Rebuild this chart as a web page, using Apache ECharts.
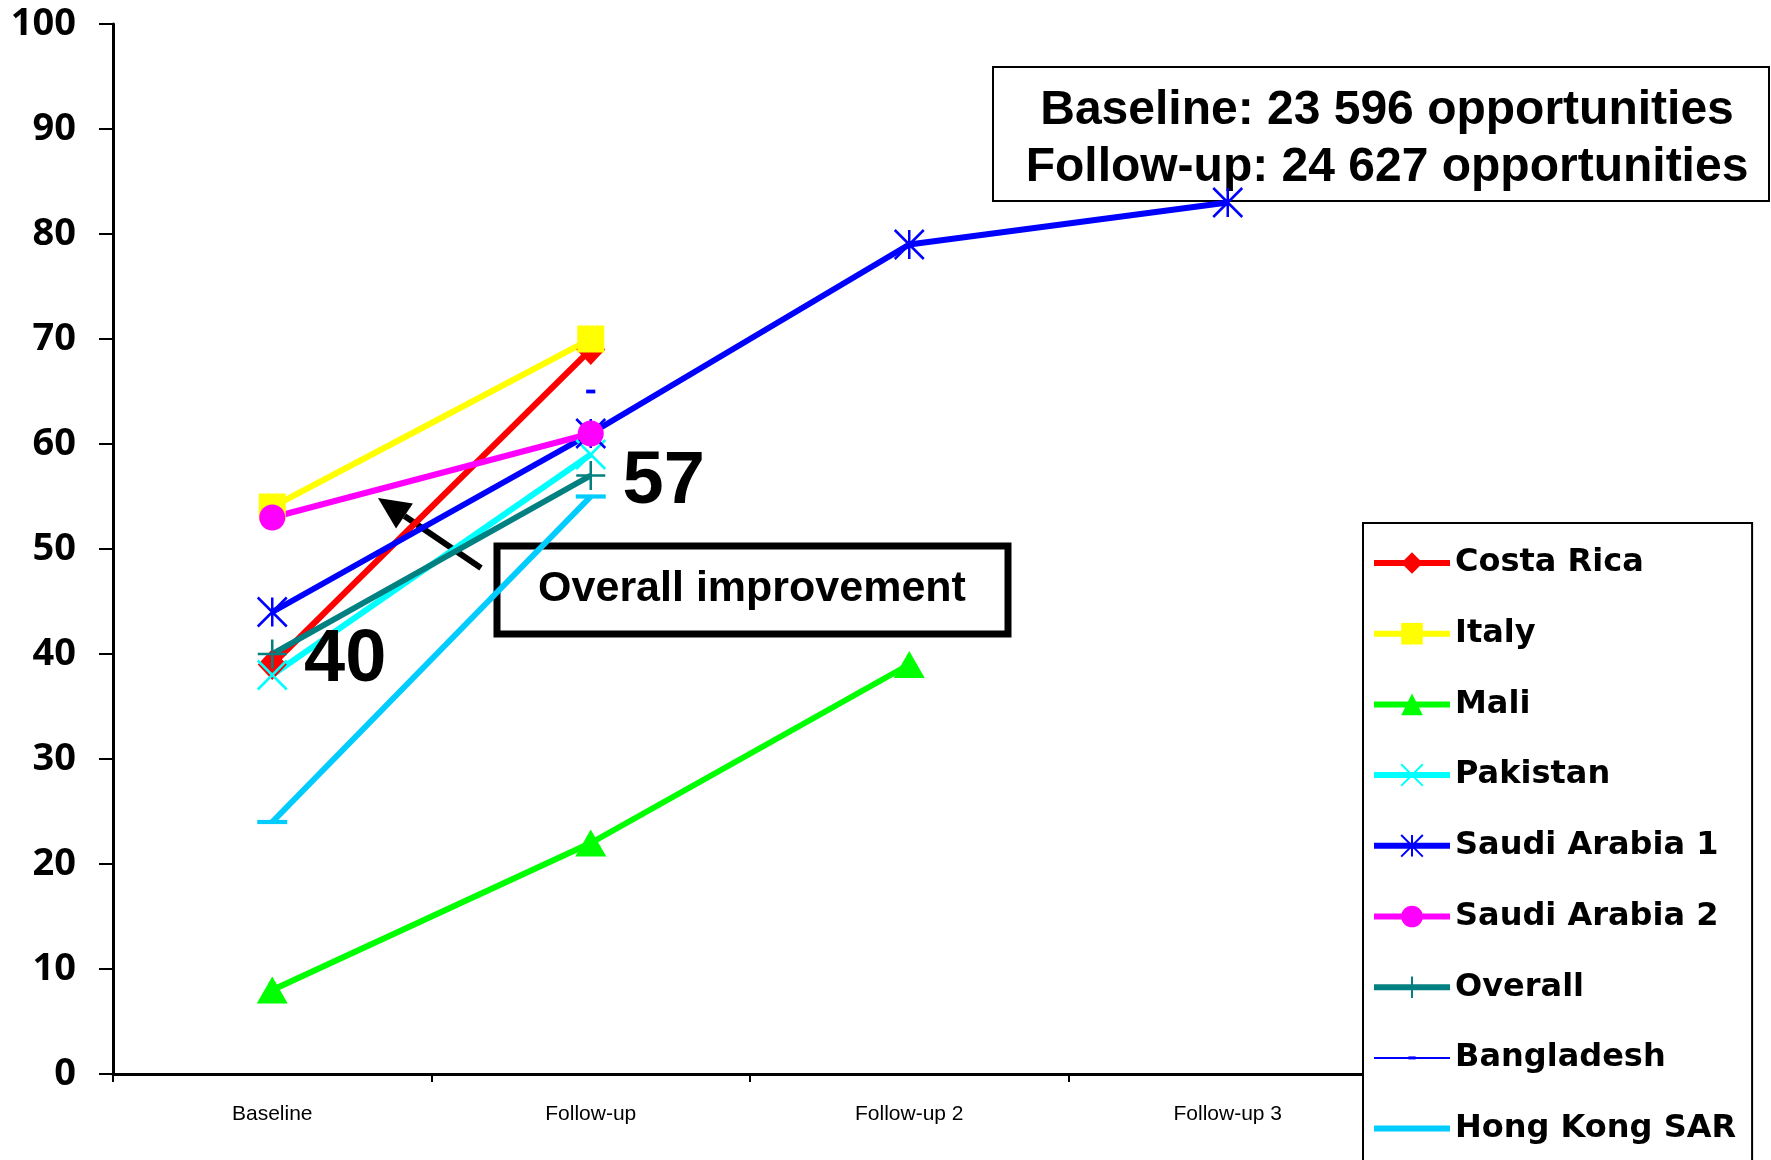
<!DOCTYPE html>
<html>
<head>
<meta charset="utf-8">
<title>Hand hygiene compliance</title>
<script src="https://cdn.jsdelivr.net/npm/echarts@6/dist/echarts.min.js"></script>
<style>
  html, body { margin: 0; padding: 0; background: #ffffff; }
  #chart { width: 1771px; height: 1160px; }
</style>
</head>
<body>
<div id="chart"></div>
<script>
// Survey rounds along the x axis
const rounds = ['Baseline', 'Follow-up', 'Follow-up 2', 'Follow-up 3'];

// Compliance (%) per site and round; null where the round was not run
const costaRica    = [39, 69, null, null];
const italy        = [54, 70, null, null];
const mali         = [8, 22, 39, null];
const pakistan     = [38, 59, null, null];
const saudiArabia1 = [44, 61, 79, 83];
const saudiArabia2 = [53, 61, null, null];
const overall      = [40, 57, null, null];
const bangladesh   = [null, 65, null, null];
const hongKong     = [24, 55, null, null];

// Text blocks
const opportunityLines = ['Baseline: 23 596 opportunities', 'Follow-up: 24 627 opportunities'];
const calloutText = 'Overall improvement';

// Marker shapes drawn as paths
const SYM_X     = 'path://M0,0L1,1M1,0L0,1';
const SYM_STAR  = 'path://M0,0L1,1M1,0L0,1M0.5,0L0.5,1';
const SYM_PLUS  = 'path://M0.5,0L0.5,1M0,0.5L1,0.5';
const SYM_DASH  = 'path://M0,0.43L1,0.43L1,0.57L0,0.57ZM0.5,0L0.5,0M0.5,1L0.5,1';
const SYM_TICK  = 'path://M0.33,0.43L0.67,0.43L0.67,0.57L0.33,0.57ZM0,0L0,0M1,1L1,1';

const LINE_W = 6;

function site(name, data, color, symbol, size, extra) {
  const base = {
    name: name,
    type: 'line',
    data: data,
    symbol: symbol,
    symbolSize: size,
    showSymbol: true,
    showAllSymbol: true,
    connectNulls: false,
    lineStyle: { color: color, width: LINE_W },
    itemStyle: { color: color, borderColor: color, borderWidth: 0 },
    emphasis: { disabled: true },
    animation: false
  };
  return Object.assign(base, extra || {});
}

const series = [
  site('Costa Rica', costaRica, '#ff0000', 'diamond', [29, 31]),
  site('Italy', italy, '#ffff00', 'rect', 27),
  site('Mali', mali, '#00ff00', 'triangle', [31, 27]),
  site('Pakistan', pakistan, '#00ffff', SYM_X, 29,
       { itemStyle: { color: '#00ffff', borderColor: '#00ffff', borderWidth: 2.5 } }),
  site('Saudi Arabia 1', saudiArabia1, '#0000ff', SYM_STAR, 29,
       { itemStyle: { color: '#0000ff', borderColor: '#0000ff', borderWidth: 2.5 } }),
  site('Saudi Arabia 2', saudiArabia2, '#ff00ff', 'circle', 26),
  site('Overall', overall, '#008080', SYM_PLUS, 29, {
    itemStyle: { color: '#008080', borderColor: '#008080', borderWidth: 2.5 },
    label: {
      show: true,
      position: 'right',
      distance: 16,
      offset: [0, 7],
      formatter: '{c}',
      fontFamily: 'Liberation Sans, Arial, sans-serif',
      fontWeight: 'bold',
      fontSize: 74,
      color: '#000000'
    }
  }),
  site('Bangladesh', bangladesh, '#0000ff', SYM_TICK, 27,
       { lineStyle: { color: '#0000ff', width: 2 } }),
  site('Hong Kong SAR', hongKong, '#00ccff', SYM_DASH, 30)
];

const chart = echarts.init(document.getElementById('chart'), null, { renderer: 'canvas' });

// Arrow pointing from the callout box towards the lines
const tail = [481, 568];
const tip = [378, 498];
const headLen = 32, headHalf = 15;
const dx = tip[0] - tail[0], dy = tip[1] - tail[1];
const len = Math.sqrt(dx * dx + dy * dy);
const ux = dx / len, uy = dy / len;
const bx = tip[0] - headLen * ux, by = tip[1] - headLen * uy;
const nx = -uy, ny = ux;

chart.setOption({
  backgroundColor: '#ffffff',
  animation: false,
  grid: {
    left: 113, right: 384, top: 24, bottom: 86,
    containLabel: false,
    outerBoundsMode: 'none'
  },
  xAxis: {
    type: 'category',
    data: rounds,
    boundaryGap: true,
    axisLine: { show: true, lineStyle: { color: '#000000', width: 3 } },
    axisTick: { show: true, length: 8, lineStyle: { color: '#000000', width: 2 } },
    axisLabel: {
      margin: 30,
      fontFamily: 'Liberation Sans, Arial, sans-serif',
      fontSize: 21,
      color: '#000000'
    },
    splitLine: { show: false }
  },
  yAxis: {
    type: 'value',
    min: 0, max: 100, interval: 10,
    axisLine: { show: true, lineStyle: { color: '#000000', width: 3 } },
    axisTick: { show: true, length: 14, lineStyle: { color: '#000000', width: 2 } },
    axisLabel: {
      margin: 37,
      fontFamily: 'Open Sans, sans-serif',
      fontWeight: 700,
      fontSize: 38,
      color: '#000000'
    },
    splitLine: { show: false }
  },
  legend: {
    orient: 'vertical',
    left: 1363,
    top: 523,
    height: 900,
    padding: [24, 16, 20, 8],
    itemWidth: 76,
    itemHeight: 27,
    itemGap: 38.7,
    backgroundColor: '#ffffff',
    borderColor: '#000000',
    borderWidth: 2,
    borderRadius: 0,
    selectedMode: false,
    textStyle: {
      fontFamily: 'DejaVu Sans, sans-serif',
      fontWeight: 'bold',
      fontSize: 32,
      lineHeight: 32,
      color: '#000000'
    },
    data: series.map(s => ({
      name: s.name,
      lineStyle: { width: s.lineStyle.width }
    }))
  },
  graphic: [
    {
      type: 'group',
      z: 1,
      children: [
        {
          type: 'rect',
          shape: { x: 993, y: 67, width: 776, height: 134 },
          style: { fill: '#ffffff', stroke: '#000000', lineWidth: 2 }
        },
        {
          type: 'text',
          style: {
            x: 1387, y: 111, text: opportunityLines[0],
            fill: '#000000', align: 'center', verticalAlign: 'middle',
            font: 'bold 48px "Liberation Sans", Arial, sans-serif'
          }
        },
        {
          type: 'text',
          style: {
            x: 1387, y: 168, text: opportunityLines[1],
            fill: '#000000', align: 'center', verticalAlign: 'middle',
            font: 'bold 48px "Liberation Sans", Arial, sans-serif'
          }
        }
      ]
    },
    {
      type: 'group',
      z: 1,
      children: [
        {
          type: 'rect',
          shape: { x: 497, y: 546, width: 511, height: 88 },
          style: { fill: '#ffffff', stroke: '#000000', lineWidth: 7 }
        },
        {
          type: 'text',
          style: {
            x: 752, y: 589, text: calloutText,
            fill: '#000000', align: 'center', verticalAlign: 'middle',
            font: 'bold 43px "Liberation Sans", Arial, sans-serif'
          }
        }
      ]
    },
    {
      type: 'group',
      z: 10,
      children: [
        {
          type: 'line',
          shape: { x1: tail[0], y1: tail[1], x2: bx, y2: by },
          style: { stroke: '#000000', lineWidth: 6 }
        },
        {
          type: 'polygon',
          shape: { points: [tip, [bx + headHalf * nx, by + headHalf * ny], [bx - headHalf * nx, by - headHalf * ny]] },
          style: { fill: '#000000' }
        }
      ]
    }
  ],
  series: series
});
</script>
</body>
</html>
